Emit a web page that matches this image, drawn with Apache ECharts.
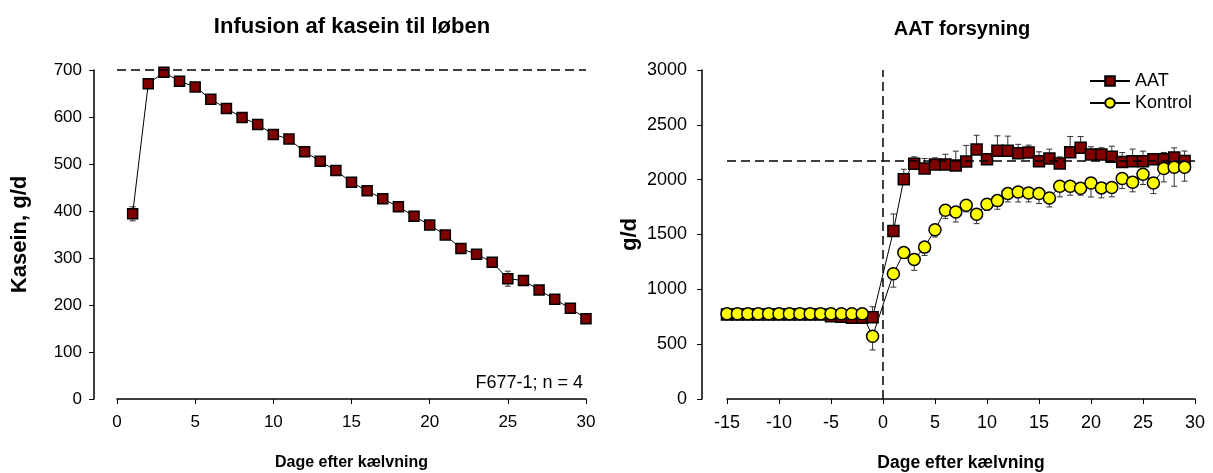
<!DOCTYPE html>
<html>
<head>
<meta charset="utf-8">
<script src="https://cdn.jsdelivr.net/npm/echarts@6/dist/echarts.min.js"></script>
<style>
html,body{margin:0;padding:0;background:#fff;}
#c{width:1213px;height:473px;}
</style>
</head>
<body>
<div id="c"></div>
<script>
// ---------- Left chart data ----------
const leftTitle = 'Infusion af kasein til løben';
const leftDays = [1,2,3,4,5,6,7,8,9,10,11,12,13,14,15,16,17,18,19,20,21,22,23,24,25,26,27,28,29,30];
const kasein = [394,671,695,676,664,638,618,599,584,563,553,526,506,486,461,443,426,409,389,370,349,320,308,291,256,252,232,212,193,171];
const kaseinErr = [15,0,0,0,0,0,0,0,0,0,4,0,0,0,0,0,0,0,0,0,0,0,0,0,16,0,0,0,0,0];
const kaseinRef = 700;
const leftNote = 'F677-1; n = 4';

// ---------- Right chart data ----------
const rightTitle = 'AAT forsyning';
const rightDays = [-15,-14,-13,-12,-11,-10,-9,-8,-7,-6,-5,-4,-3,-2,-1,1,2,3,4,5,6,7,8,9,10,11,12,13,14,15,16,17,18,19,20,21,22,23,24,25,26,27,28,29];
const aat = [770,770,770,770,770,770,770,770,770,770,755,750,740,740,746,
  1532,2004,2144,2102,2138,2138,2129,2166,2275,2187,2263,2263,2242,2248,2169,2193,2148,2251,2290,2230,2230,2208,2162,2169,2169,2187,2187,2202,2170];
const aatErrUp = [0,0,0,0,0,0,0,0,0,0,0,0,0,0,95,
  155,91,64,91,61,94,131,146,130,37,137,134,80,67,85,85,60,143,104,70,61,97,85,110,91,49,61,88,91];
const kontrol = [777,777,777,777,777,777,777,777,777,777,777,777,777,777,572,
  1142,1335,1273,1385,1544,1721,1705,1766,1684,1776,1809,1873,1888,1879,1873,1833,1940,1940,1922,1970,1925,1928,2010,1977,2050,1970,2102,2114,2114];
const kontrolErrDown = [0,0,0,0,0,0,0,0,0,0,0,0,0,0,125,
  122,52,100,76,67,76,91,60,85,55,79,76,91,82,91,82,97,82,64,128,91,85,91,88,94,97,122,174,128];
const aatRef = 2175;
const dayZero = 0;
const xAxisName = 'Dage efter kælvning';

// ---------- helpers ----------
function errData(xs, ys, lo, hi) {
  const out = [];
  for (let i = 0; i < xs.length; i++) {
    if (lo[i] || hi[i]) out.push([xs[i], ys[i] - lo[i], ys[i] + hi[i]]);
  }
  return out;
}
function errSeries(xi, yi, data) {
  return {
    type: 'custom', xAxisIndex: xi, yAxisIndex: yi, z: 1, silent: true,
    data: data,
    encode: { x: 0, y: [1, 2] },
    renderItem: function (params, api) {
      const x = api.value(0);
      const a = api.coord([x, api.value(1)]);
      const b = api.coord([x, api.value(2)]);
      const w = 3;
      const st = { stroke: '#333', lineWidth: 1 };
      return { type: 'group', children: [
        { type: 'line', shape: { x1: a[0], y1: a[1], x2: b[0], y2: b[1] }, style: st },
        { type: 'line', shape: { x1: a[0]-w, y1: a[1], x2: a[0]+w, y2: a[1] }, style: st },
        { type: 'line', shape: { x1: b[0]-w, y1: b[1], x2: b[0]+w, y2: b[1] }, style: st }
      ]};
    }
  };
}
const zip = (xs, ys) => xs.map((x, i) => [x, ys[i]]);

const FONT = 'Arial, "Liberation Sans", sans-serif';
const dash = { type: [9, 5], color: '#000', width: 1.5 };

function xAx(grid, min, max, fs, nameFs, gap) {
  return {
    type: 'value', gridIndex: grid, min: min, max: max, interval: 5,
    name: xAxisName, nameLocation: 'middle', nameGap: gap,
    nameTextStyle: { fontFamily: FONT, fontSize: nameFs, fontWeight: 'bold', color: '#000' },
    axisLine: { show: true, onZero: false, lineStyle: { color: '#000', width: 1.5 } },
    axisTick: { show: true, inside: false, length: 5, lineStyle: { color: '#000', width: 1 } },
    axisLabel: { fontFamily: FONT, fontSize: fs, color: '#000', margin: 15,
      formatter: v => String(v) },
    splitLine: { show: false }
  };
}
function yAx(grid, max, interval, name, offset, gap, fs, margin) {
  return {
    type: 'value', gridIndex: grid, min: 0, max: max, interval: interval, offset: offset,
    name: name, nameLocation: 'middle', nameGap: gap,
    nameTextStyle: { fontFamily: FONT, fontSize: 22, fontWeight: 'bold', color: '#000' },
    axisLine: { show: true, onZero: false, lineStyle: { color: '#000', width: 1.5 } },
    axisTick: { show: true, inside: false, length: 5, lineStyle: { color: '#000', width: 1 } },
    axisLabel: { fontFamily: FONT, fontSize: fs, color: '#000', margin: margin,
      formatter: v => String(v) },
    splitLine: { show: false }
  };
}

const chart = echarts.init(document.getElementById('c'), null, { renderer: 'canvas' });
chart.setOption({
  animation: false,
  backgroundColor: '#fff',
  title: [
    { text: leftTitle, left: 347, top: 11, textAlign: 'center',
      textStyle: { fontFamily: FONT, fontSize: 22, fontWeight: 'bold', color: '#000' } },
    { text: rightTitle, left: 957, top: 14, textAlign: 'center',
      textStyle: { fontFamily: FONT, fontSize: 20, fontWeight: 'bold', color: '#000' } }
  ],
  legend: {
    orient: 'vertical', left: 1084, top: 67, itemWidth: 40, itemHeight: 12, itemGap: 4,
    textStyle: { fontFamily: FONT, fontSize: 18, color: '#000' },
    data: ['AAT', 'Kontrol']
  },
  grid: [
    { left: 117, top: 70, width: 469, height: 329, containLabel: false, outerBoundsMode: 'none' },
    { left: 727, top: 70, width: 468, height: 329, containLabel: false, outerBoundsMode: 'none' }
  ],
  xAxis: [ xAx(0, 0, 30, 17, 16, 56), xAx(1, -15, 30, 18, 17.5, 55) ],
  yAxis: [ yAx(0, 700, 100, 'Kasein, g/d', 23, 63, 17, 12), yAx(1, 3000, 500, 'g/d', 25, 61, 18, 15) ],
  graphic: [
    { type: 'text', right: 1213 - 583, top: 374,
      style: { text: leftNote, fontFamily: FONT, fontSize: 18, fill: '#000', textAlign: 'right' } }
  ],
  series: [
    errSeries(0, 0, errData(leftDays, kasein, kaseinErr, kaseinErr)),
    {
      name: 'Kasein', type: 'line', xAxisIndex: 0, yAxisIndex: 0, z: 3,
      data: zip(leftDays, kasein),
      symbol: 'rect', symbolSize: 10,
      lineStyle: { color: '#000', width: 1 },
      itemStyle: { color: '#800000', borderColor: '#000', borderWidth: 1.5 },
      markLine: { symbol: 'none', silent: true, label: { show: false }, lineStyle: dash,
        data: [{ yAxis: kaseinRef }] }
    },
    errSeries(1, 1, errData(rightDays, aat, aatErrUp.map(() => 0), aatErrUp)),
    errSeries(1, 1, errData(rightDays, kontrol, kontrolErrDown, kontrolErrDown.map(() => 0))),
    {
      name: 'AAT', type: 'line', xAxisIndex: 1, yAxisIndex: 1, z: 3,
      data: zip(rightDays, aat),
      symbol: 'rect', symbolSize: 11,
      lineStyle: { color: '#000', width: 1 },
      itemStyle: { color: '#800000', borderColor: '#000', borderWidth: 1.5 },
      markLine: { symbol: 'none', silent: true, label: { show: false }, lineStyle: dash,
        data: [{ yAxis: aatRef }, { xAxis: dayZero }] }
    },
    {
      name: 'Kontrol', type: 'line', xAxisIndex: 1, yAxisIndex: 1, z: 4,
      data: zip(rightDays, kontrol),
      symbol: 'circle', symbolSize: 12,
      lineStyle: { color: '#000', width: 1 },
      itemStyle: { color: '#ffff00', borderColor: '#000', borderWidth: 1.5 }
    }
  ]
});
</script>
</body>
</html>
